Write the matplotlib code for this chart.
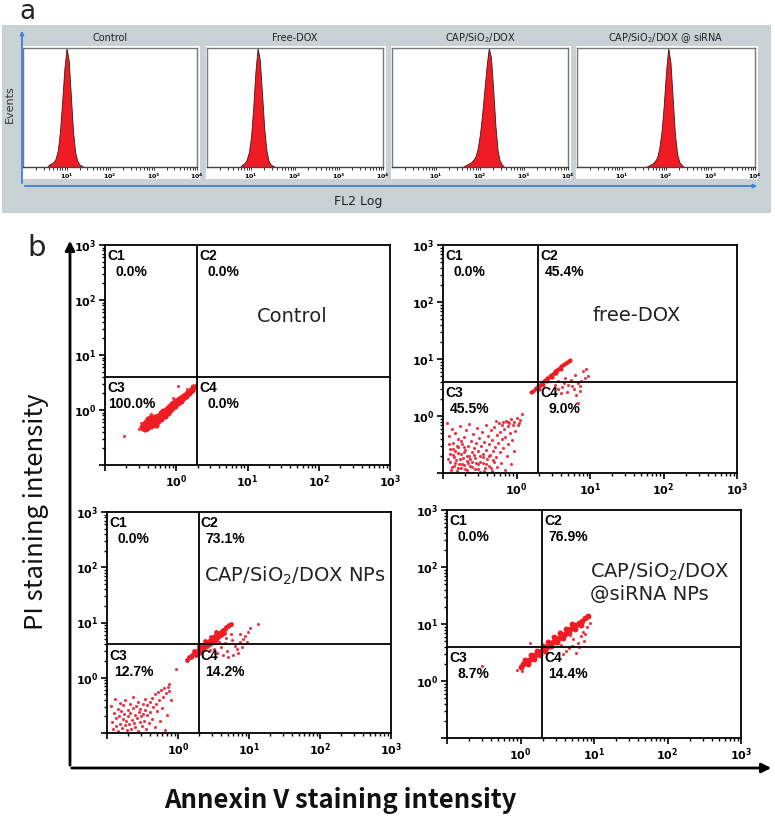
import numpy as np
import matplotlib
matplotlib.use("Agg")
import matplotlib.pyplot as plt
from matplotlib.patches import Rectangle, FancyArrowPatch
from matplotlib.ticker import LogLocator, FuncFormatter, NullFormatter, FixedLocator

# ---------------- panel a : FL2 histograms (log10 intensity, relative counts) ----------------
hist_titles = ["Control", "Free-DOX", "CAP/SiO$_2$/DOX", "CAP/SiO$_2$/DOX @ siRNA"]
hist_control_log = [0.55, 0.60, 0.65, 0.70, 0.75, 0.80, 0.85, 0.90, 0.95, 1.00, 1.05, 1.10, 1.15, 1.20, 1.25, 1.30, 1.35, 1.40]
hist_control_cnt = [0, 2, 3, 4, 7, 14, 30, 55, 82, 100, 90, 60, 30, 12, 5, 2, 1, 0]
hist_free_log = [0.75, 0.80, 0.85, 0.90, 0.95, 1.00, 1.05, 1.10, 1.15, 1.20, 1.25, 1.30, 1.35, 1.40, 1.45, 1.50, 1.55]
hist_free_cnt = [0, 2, 3, 6, 12, 25, 50, 80, 100, 90, 62, 33, 14, 5, 2, 1, 0]
hist_cap_log = [1.60, 1.65, 1.70, 1.75, 1.80, 1.85, 1.90, 1.95, 2.00, 2.05, 2.10, 2.15, 2.20, 2.25, 2.30, 2.35, 2.40, 2.45, 2.50, 2.55]
hist_cap_cnt = [0, 1, 2, 3, 4, 6, 9, 16, 28, 45, 65, 85, 100, 92, 65, 35, 14, 5, 2, 0]
hist_sirna_log = [1.55, 1.60, 1.65, 1.70, 1.75, 1.80, 1.85, 1.90, 1.95, 2.00, 2.05, 2.10, 2.15, 2.20, 2.25, 2.30, 2.35, 2.40]
hist_sirna_cnt = [0, 1, 2, 3, 5, 8, 16, 30, 52, 80, 100, 88, 58, 28, 11, 4, 2, 0]
hist_tick_exps = [1, 2, 3, 4]

# ---------------- panel b : Annexin V / PI flow cytometry ----------------
flow_titles = ["Control", "free-DOX", "CAP/SiO$_2$/DOX NPs", "CAP/SiO$_2$/DOX\n@siRNA NPs"]
quadrant_names = ["C1", "C2", "C3", "C4"]
pct_control = ["0.0%", "0.0%", "100.0%", "0.0%"]
pct_free = ["0.0%", "45.4%", "45.5%", "9.0%"]
pct_cap = ["0.0%", "73.1%", "12.7%", "14.2%"]
pct_sirna = ["0.0%", "76.9%", "8.7%", "14.4%"]
gate_x = 1.95
gate_y = 4.0
flow_tick_exps = [0, 1, 2, 3]

# event coordinates as (log10 Annexin V, log10 PI)
ctrl_dense = [(-0.48, -0.30), (-0.46, -0.33), (-0.45, -0.26), (-0.43, -0.29), (-0.42, -0.22), (-0.41, -0.32),
              (-0.39, -0.25), (-0.37, -0.20), (-0.36, -0.29), (-0.34, -0.17), (-0.33, -0.24), (-0.31, -0.21),
              (-0.30, -0.13), (-0.29, -0.27), (-0.28, -0.17), (-0.26, -0.10), (-0.25, -0.20), (-0.24, -0.14),
              (-0.22, -0.06), (-0.21, -0.16), (-0.19, -0.09), (-0.18, -0.02), (-0.16, -0.11), (-0.15, -0.03),
              (-0.13, 0.02), (-0.12, -0.06), (-0.10, 0.06), (-0.09, 0.00), (-0.07, 0.09), (-0.06, 0.04),
              (-0.04, 0.12), (-0.02, 0.08), (0.00, 0.16), (0.02, 0.12), (0.04, 0.20), (0.06, 0.17),
              (0.08, 0.24), (0.10, 0.21), (0.12, 0.28), (0.14, 0.26), (0.16, 0.32), (0.18, 0.31),
              (0.20, 0.36), (0.22, 0.37), (0.24, 0.41), (-0.40, -0.17), (-0.35, -0.12), (-0.44, -0.35)]
ctrl_sparse = [(-0.74, -0.48), (0.02, 0.44), (0.26, 0.45), (-0.52, -0.35), (-0.50, -0.24), (-0.05, 0.22),
               (0.15, 0.38), (-0.35, -0.08)]

free_dense = [(0.20, 0.42), (0.23, 0.44), (0.25, 0.48), (0.27, 0.49), (0.29, 0.52), (0.31, 0.53), (0.33, 0.57),
              (0.35, 0.58), (0.37, 0.61), (0.39, 0.63), (0.41, 0.66), (0.43, 0.67), (0.45, 0.70), (0.47, 0.72),
              (0.49, 0.74), (0.51, 0.76), (0.53, 0.79), (0.55, 0.80), (0.57, 0.83), (0.59, 0.85), (0.61, 0.87),
              (0.63, 0.89), (0.65, 0.91), (0.67, 0.93), (0.69, 0.95), (0.71, 0.97), (0.73, 0.99),
              (0.30, 0.48), (0.36, 0.55), (0.42, 0.62), (0.48, 0.69), (0.54, 0.75), (0.60, 0.82)]
free_sparse = [(0.91, 0.79), (0.97, 0.70), (0.84, 0.58), (0.75, 0.53), (0.86, 0.44), (0.84, 0.23), (0.66, 0.67),
               (0.57, 0.47), (0.80, 0.72), (0.88, 0.62), (0.70, 0.55), (0.62, 0.50), (0.78, 0.48), (0.93, 0.66),
               (0.52, 0.55), (0.74, 0.63), (0.69, 0.42), (0.60, 0.40), (0.81, 0.36), (0.95, 0.82), (0.87, 0.52),
               (0.64, 0.58), (0.56, 0.62),
               (-0.94, -0.12), (-0.92, -0.35), (-0.91, -0.58), (-0.90, -0.80), (-0.89, -0.95), (-0.88, -0.22),
               (-0.87, -0.47), (-0.86, -0.69), (-0.85, -0.88), (-0.84, -0.30), (-0.83, -0.62), (-0.82, -0.77),
               (-0.81, -0.97), (-0.80, -0.41), (-0.79, -0.55), (-0.78, -0.84), (-0.77, -0.18), (-0.76, -0.66),
               (-0.75, -0.92), (-0.74, -0.49), (-0.73, -0.73), (-0.72, -0.36), (-0.71, -0.86), (-0.70, -0.60),
               (-0.69, -0.25), (-0.68, -0.79), (-0.67, -0.95), (-0.66, -0.52), (-0.65, -0.70), (-0.64, -0.14),
               (-0.63, -0.88), (-0.62, -0.43), (-0.61, -0.64), (-0.60, -0.81), (-0.59, -0.31), (-0.58, -0.57),
               (-0.57, -0.93), (-0.56, -0.74), (-0.55, -0.47), (-0.54, -0.21), (-0.53, -0.85), (-0.52, -0.62),
               (-0.51, -0.39), (-0.50, -0.98), (-0.49, -0.71), (-0.48, -0.53), (-0.47, -0.28), (-0.46, -0.82),
               (-0.45, -0.66), (-0.44, -0.45), (-0.43, -0.91), (-0.42, -0.16), (-0.41, -0.59), (-0.40, -0.76),
               (-0.39, -0.35), (-0.38, -0.87), (-0.37, -0.50), (-0.36, -0.68), (-0.35, -0.24), (-0.34, -0.96),
               (-0.33, -0.42), (-0.32, -0.61), (-0.31, -0.80), (-0.30, -0.19), (-0.29, -0.54), (-0.28, -0.72),
               (-0.27, -0.33), (-0.26, -0.89), (-0.25, -0.47), (-0.24, -0.12), (-0.23, -0.64), (-0.22, -0.28),
               (-0.21, -0.83), (-0.20, -0.40), (-0.19, -0.10), (-0.18, -0.57), (-0.17, -0.22), (-0.16, -0.94),
               (-0.15, -0.36), (-0.14, -0.08), (-0.13, -0.70), (-0.12, -0.18), (-0.11, -0.49), (-0.10, -0.13),
               (-0.09, -0.30), (-0.08, -0.85), (-0.07, -0.06), (-0.06, -0.42), (-0.05, -0.16), (-0.04, -0.62),
               (-0.03, -0.10), (-0.02, -0.26), (0.00, -0.04), (0.02, -0.15), (0.05, -0.07), (0.08, 0.04),
               (-0.28, -0.09), (-0.20, -0.15), (-0.12, -0.11), (0.03, -0.12),
               (-0.93, -0.75), (-0.90, -0.66), (-0.88, -0.90), (-0.85, -0.72), (-0.83, -0.83), (-0.80, -0.65),
               (-0.79, -0.91), (-0.77, -0.76), (-0.74, -0.85), (-0.72, -0.63), (-0.70, -0.93), (-0.68, -0.70),
               (-0.66, -0.82), (-0.63, -0.76), (-0.61, -0.90), (-0.58, -0.68), (-0.55, -0.83), (-0.52, -0.93),
               (-0.49, -0.80), (-0.46, -0.72), (-0.44, -0.96), (-0.41, -0.84), (-0.38, -0.70), (-0.35, -0.91),
               (-0.32, -0.78), (-0.92, -0.50), (-0.86, -0.58), (-0.81, -0.52), (-0.76, -0.44), (-0.71, -0.55)]

cap_dense = [(0.12, 0.33), (0.15, 0.37), (0.18, 0.38), (0.20, 0.42), (0.22, 0.43), (0.24, 0.46), (0.26, 0.47),
             (0.28, 0.50), (0.30, 0.51), (0.32, 0.54), (0.34, 0.56), (0.36, 0.58), (0.38, 0.60), (0.40, 0.62),
             (0.42, 0.64), (0.44, 0.66), (0.46, 0.69), (0.48, 0.70), (0.50, 0.73), (0.52, 0.75), (0.54, 0.77),
             (0.56, 0.79), (0.58, 0.81), (0.60, 0.83), (0.62, 0.85), (0.64, 0.87), (0.66, 0.89), (0.68, 0.91),
             (0.70, 0.93), (0.72, 0.95), (0.74, 0.97), (0.25, 0.41), (0.29, 0.45), (0.33, 0.49), (0.37, 0.53),
             (0.41, 0.57), (0.45, 0.61), (0.49, 0.65), (0.53, 0.69), (0.57, 0.73), (0.61, 0.77), (0.65, 0.81),
             (0.22, 0.48), (0.30, 0.57), (0.38, 0.66), (0.46, 0.74), (0.54, 0.83)]
cap_sparse = [(1.13, 0.97), (0.99, 0.82), (0.94, 0.76), (0.87, 0.64), (0.84, 0.45), (0.78, 0.42), (0.97, 0.64),
              (0.69, 0.48), (0.55, 0.45), (0.74, 0.79), (0.88, 0.79), (0.60, 0.55), (0.80, 0.58), (0.92, 0.70),
              (0.66, 0.62), (0.71, 0.38), (0.83, 0.52), (0.58, 0.64), (0.76, 0.69), (0.63, 0.42), (0.90, 0.55),
              (1.02, 0.90), (0.50, 0.52), (0.45, 0.50), (0.68, 0.72),
              (-0.94, -0.52), (-0.93, -0.80), (-0.91, -0.93), (-0.90, -0.64), (-0.89, -0.38), (-0.88, -0.72),
              (-0.87, -0.88), (-0.85, -0.57), (-0.84, -0.97), (-0.83, -0.69), (-0.82, -0.45), (-0.81, -0.83),
              (-0.80, -0.61), (-0.79, -0.91), (-0.78, -0.74), (-0.77, -0.50), (-0.76, -0.66), (-0.75, -0.86),
              (-0.74, -0.41), (-0.73, -0.78), (-0.72, -0.95), (-0.71, -0.59), (-0.70, -0.70), (-0.69, -0.84),
              (-0.68, -0.47), (-0.67, -0.63), (-0.66, -0.92), (-0.65, -0.76), (-0.64, -0.55), (-0.63, -0.35),
              (-0.62, -0.81), (-0.61, -0.67), (-0.60, -0.89), (-0.59, -0.52), (-0.58, -0.73), (-0.57, -0.43),
              (-0.56, -0.96), (-0.55, -0.62), (-0.54, -0.80), (-0.53, -0.56), (-0.52, -0.70), (-0.51, -0.87),
              (-0.50, -0.48), (-0.49, -0.65), (-0.48, -0.78), (-0.47, -0.39), (-0.46, -0.58), (-0.45, -0.93),
              (-0.44, -0.68), (-0.43, -0.50), (-0.41, -0.82), (-0.40, -0.44), (-0.39, -0.62), (-0.37, -0.36),
              (-0.36, -0.74), (-0.35, -0.53), (-0.33, -0.30), (-0.32, -0.90), (-0.31, -0.47), (-0.29, -0.60),
              (-0.28, -0.26), (-0.27, -0.41), (-0.25, -0.79), (-0.24, -0.22), (-0.23, -0.55), (-0.21, -0.34),
              (-0.20, -0.18), (-0.18, -0.95), (-0.17, -0.28), (-0.15, -0.68), (-0.14, -0.16), (-0.13, -0.24),
              (-0.12, -0.12), (-0.10, -0.40), (-0.03, 0.16)]

sirna_dense = [(0.00, 0.25), (0.04, 0.29), (0.08, 0.33), (0.12, 0.37), (0.16, 0.41), (0.20, 0.45), (0.24, 0.49),
               (0.28, 0.52), (0.32, 0.56), (0.36, 0.60), (0.40, 0.64), (0.44, 0.68), (0.48, 0.72), (0.52, 0.76),
               (0.56, 0.79), (0.60, 0.83), (0.64, 0.87), (0.68, 0.91), (0.72, 0.95), (0.76, 0.99), (0.80, 1.02),
               (0.84, 1.06), (0.88, 1.10), (0.92, 1.14),
               (0.06, 0.37), (0.14, 0.45), (0.22, 0.53), (0.30, 0.61), (0.38, 0.69), (0.46, 0.77), (0.54, 0.85),
               (0.62, 0.92), (0.70, 1.00),
               (0.10, 0.30), (0.18, 0.38), (0.26, 0.45), (0.34, 0.53), (0.42, 0.61), (0.50, 0.69), (0.58, 0.76),
               (0.66, 0.84), (0.74, 0.92), (0.82, 0.99)]
sirna_sparse = [(0.76, 0.50), (0.62, 0.53), (0.82, 0.79), (0.87, 0.70), (0.13, 0.67), (0.70, 0.62), (0.78, 0.66),
                (0.66, 0.58), (0.85, 0.86), (0.90, 0.95), (0.58, 0.48), (0.72, 0.74), (0.80, 0.60), (0.95, 1.02),
                (0.68, 0.80), (-0.53, 0.26), (0.55, 0.64), (0.88, 0.82), (-0.05, 0.20), (0.02, 0.18)]

# ---------------- figure ----------------
W, H = 775, 819
fig = plt.figure(figsize=(W / 100, H / 100), dpi=100)
fig.patch.set_facecolor("white")

def fxp(px):
    return px / W

def fyp(py):
    return 1 - py / H

def axes_px(x0, y0, x1, y1):
    return fig.add_axes([x0 / W, 1 - y1 / H, (x1 - x0) / W, (y1 - y0) / H])

RED = "#f01c24"
DOT = "#ef3446"

# ---- panel a ----
fig.add_artist(Rectangle((fxp(2), fyp(213)), (771 - 2) / W, (213 - 25) / H, transform=fig.transFigure,
                         facecolor="#c8d1d3", edgecolor="none", zorder=-10))
fig.text(fxp(27), fyp(12), "a", fontsize=19, ha="center", va="center", color="#222222")

hist_sets = [(hist_control_log, hist_control_cnt), (hist_free_log, hist_free_cnt),
             (hist_cap_log, hist_cap_cnt), (hist_sirna_log, hist_sirna_cnt)]
hist_x = [(23, 197), (207, 383), (392, 568), (577, 755)]

def exp_label(e):
    return r"$\mathbf{10^{%d}}$" % e

for (logs, cnts), (x0, x1), title in zip(hist_sets, hist_x, hist_titles):
    fig.add_artist(Rectangle((fxp(x0 - 1), fyp(179)), (x1 - x0 + 4) / W, (179 - 46) / H,
                             transform=fig.transFigure, facecolor="white", edgecolor="none", zorder=-5))
    ax = axes_px(x0, 48, x1, 167)
    xv = 10 ** np.array(logs)
    ax.fill_between(xv, cnts, 0, facecolor=RED, edgecolor="#3a1a1a", linewidth=0.6)
    ax.set_xscale("log")
    ax.set_xlim(1, 1e4)
    ax.set_ylim(0, 100)
    ax.set_yticks([])
    ax.xaxis.set_major_locator(FixedLocator([10.0 ** e for e in hist_tick_exps]))
    ax.xaxis.set_major_formatter(FuncFormatter(lambda v, p: exp_label(int(round(np.log10(v))))))
    ax.xaxis.set_minor_locator(LogLocator(base=10, subs=np.arange(2, 10), numticks=20))
    ax.xaxis.set_minor_formatter(NullFormatter())
    ax.tick_params(axis="x", which="both", direction="out", length=2, width=0.7, color="#333333",
                   labelsize=4.5, pad=1.5)
    for s in ax.spines.values():
        s.set_color("#777777")
        s.set_linewidth(1.0)
    ax.spines["bottom"].set_color("#444444")
    fig.text(fxp((x0 + x1) / 2), fyp(38), title, fontsize=7, ha="center", va="center", color="#222222")

fig.add_artist(FancyArrowPatch((fxp(22), fyp(186)), (fxp(22), fyp(28)), transform=fig.transFigure,
                               arrowstyle="-|>", mutation_scale=5, color="#3d7fe0", lw=1.3))
fig.add_artist(FancyArrowPatch((fxp(22), fyp(186)), (fxp(760), fyp(186)), transform=fig.transFigure,
                               arrowstyle="-|>", mutation_scale=5, color="#3d7fe0", lw=1.3))
fig.text(fxp(10), fyp(104), "Events", rotation=90, fontsize=8, ha="center", va="center", color="#333333")
fig.text(fxp(358), fyp(202), "FL2 Log", fontsize=9, ha="center", va="center", color="#222222")

# ---- panel b ----
fig.text(fxp(37), fyp(248), "b", fontsize=21, ha="center", va="center", color="#222222")

flow_axes_px = [(105, 245, 390, 465), (443, 245, 737, 473), (107, 512, 391, 733), (447, 510, 741, 738)]
flow_sets = [(ctrl_dense, ctrl_sparse, pct_control, 20),
             (free_dense, free_sparse, pct_free, 9),
             (cap_dense, cap_sparse, pct_cap, 12),
             (sirna_dense, sirna_sparse, pct_sirna, 18)]
title_pos = [(0.657, 0.677, "center"), (0.66, 0.689, "center"), (0.662, 0.71, "center"), (0.486, 0.684, "left")]

def flow_fmt(v, p):
    e = int(round(np.log10(v)))
    return exp_label(e) if e in flow_tick_exps else ""

for (x0, y0, x1, y1), (dense, sparse, pcts, dsize), title, (tx, ty, tha) in zip(
        flow_axes_px, flow_sets, flow_titles, title_pos):
    ax = axes_px(x0, y0, x1, y1)
    ax.set_xscale("log")
    ax.set_yscale("log")
    ax.set_xlim(0.1, 1000)
    ax.set_ylim(0.1, 1000)
    d = np.array(dense)
    s = np.array(sparse)
    ax.scatter(10 ** d[:, 0], 10 ** d[:, 1], s=dsize, color=RED, linewidths=0, zorder=2)
    ax.scatter(10 ** s[:, 0], 10 ** s[:, 1], s=5, color=DOT, linewidths=0, zorder=2)
    ax.axvline(gate_x, color="black", lw=1.3, zorder=3)
    ax.axhline(gate_y, color="black", lw=1.3, zorder=3)
    for axis in (ax.xaxis, ax.yaxis):
        axis.set_major_locator(LogLocator(base=10, numticks=10))
        axis.set_major_formatter(FuncFormatter(flow_fmt))
        axis.set_minor_locator(LogLocator(base=10, subs=np.arange(2, 10), numticks=20))
        axis.set_minor_formatter(NullFormatter())
    ax.tick_params(which="major", direction="out", length=4, width=1.2, labelsize=8, pad=2)
    ax.tick_params(which="minor", direction="out", length=2.5, width=1.0)
    for sp in ax.spines.values():
        sp.set_linewidth(1.3)
    anchors = [(0.1, 1000), (gate_x, 1000), (0.1, gate_y), (gate_x, gate_y)]
    for name, pct, (axx, ayy) in zip(quadrant_names, pcts, anchors):
        ax.annotate(name, (axx, ayy), xytext=(1.5, -3.2), textcoords="offset points", ha="left", va="top",
                    fontsize=10, fontweight="bold", family="Liberation Sans", zorder=5)
        ax.annotate(pct, (axx, ayy), xytext=(19, -14.7), textcoords="offset points", ha="center", va="top",
                    fontsize=10, fontweight="bold", family="Liberation Sans", zorder=5)
    ax.text(tx, ty, title, transform=ax.transAxes, fontsize=14, ha=tha, va="center",
            linespacing=1.15, color="#222222", zorder=5)

fig.add_artist(FancyArrowPatch((fxp(70), fyp(768)), (fxp(70), fyp(238)), transform=fig.transFigure,
                               arrowstyle="-|>", mutation_scale=14, color="black", lw=2))
fig.add_artist(FancyArrowPatch((fxp(69), fyp(768)), (fxp(774), fyp(768)), transform=fig.transFigure,
                               arrowstyle="-|>", mutation_scale=14, color="black", lw=2))
fig.text(fxp(36), fyp(512), "PI staining intensity", rotation=90, fontsize=18.5, ha="center", va="center",
         family=["Noto Sans CJK SC", "DejaVu Sans"], fontweight="medium", color="#111111")
fig.text(fxp(340), fyp(801), "Annexin V staining intensity", fontsize=18.5, ha="center", va="center",
         family=["Noto Sans CJK SC", "DejaVu Sans"], fontweight="bold", color="#111111")

fig.savefig("out.png", dpi=100)
